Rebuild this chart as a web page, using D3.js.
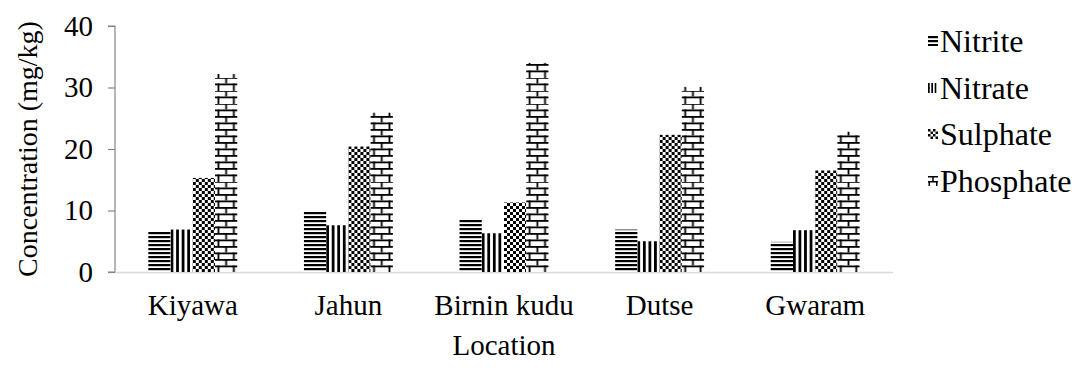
<!DOCTYPE html>
<html><head><meta charset="utf-8">
<script src="https://cdn.jsdelivr.net/npm/d3@7"></script>
<style>
html,body{margin:0;padding:0;background:#fff;}
svg text{font-family:"Liberation Serif","Tinos","Times New Roman","DejaVu Serif",serif !important;fill:#000;}
</style></head>
<body>
<svg id="chart" width="1080" height="383"></svg>
<script>
const categories = ["Kiyawa", "Jahun", "Birnin kudu", "Dutse", "Gwaram"];
const seriesNames = ["Nitrite", "Nitrate", "Sulphate", "Phosphate"];
const nitrite = [6.6, 9.8, 8.5, 6.9, 4.9];
const nitrate = [6.9, 7.6, 6.3, 5.0, 6.8];
const sulphate = [15.3, 20.4, 11.3, 22.3, 16.5];
const phosphate = [32.2, 25.9, 34.0, 30.1, 22.8];
const yTicks = [0, 10, 20, 30, 40];
const patternTypes = ["horiz", "vert", "checker", "brick"];

const seriesValues = [nitrite, nitrate, sulphate, phosphate];

const svg = d3.select("#chart");
const defs = svg.append("defs");
const mLeft = 115, mRight = 893, mTop = 26, mBottom = 272;

const x = d3.scaleBand().domain(categories).range([mLeft, mRight]).paddingInner(0).paddingOuter(0);
const bw = x.bandwidth() / 7;
const xs = d3.scaleBand().domain(seriesNames).range([0, bw * 4]);
const y = d3.scaleLinear().domain([0, 40]).range([mBottom, mTop]);

function makePattern(type, id, x0, y0, w) {
  const p = defs.append("pattern").attr("id", id).attr("patternUnits", "userSpaceOnUse")
    .attr("x", x0).attr("y", y0);
  if (type === "horiz") {
    p.attr("width", 10).attr("height", 4);
    p.append("rect").attr("width", 10).attr("height", 4).attr("fill", "#fff");
    p.append("rect").attr("width", 10).attr("height", 2.2).attr("fill", "#000");
  } else if (type === "vert") {
    const pw = w / (w < 14 ? 3 : 4);
    p.attr("width", pw).attr("height", 10);
    p.append("rect").attr("width", pw).attr("height", 10).attr("fill", "#fff");
    p.append("rect").attr("width", pw * 0.5).attr("height", 10).attr("fill", "#000");
  } else if (type === "checker") {
    const c = w < 14 ? 2.5 : 3;
    p.attr("width", c * 2).attr("height", c * 2);
    p.append("rect").attr("width", c * 2).attr("height", c * 2).attr("fill", "#fff");
    p.append("rect").attr("width", c).attr("height", c).attr("fill", "#000");
    p.append("rect").attr("x", c).attr("y", c).attr("width", c).attr("height", c).attr("fill", "#000");
  } else if (type === "brick") {
    const rh = w < 14 ? 5 : 6.5, t = w < 14 ? 1.5 : 1.8;
    p.attr("width", w).attr("height", rh * 2);
    p.append("rect").attr("width", w).attr("height", rh * 2).attr("fill", "#fff");
    p.append("rect").attr("width", w).attr("height", t).attr("fill", "#000");
    p.append("rect").attr("y", rh).attr("width", w).attr("height", t).attr("fill", "#000");
    p.append("rect").attr("x", w / 2 - t / 2).attr("y", 0).attr("width", t).attr("height", rh).attr("fill", "#000");
    const inset = w < 14 ? 0.5 : 2.5;
    p.append("rect").attr("x", inset).attr("y", rh).attr("width", t).attr("height", rh).attr("fill", "#000");
    p.append("rect").attr("x", w - inset - t).attr("y", rh).attr("width", t).attr("height", rh).attr("fill", "#000");
  }
  return "url(#" + id + ")";
}

// axes
const yAxis = d3.axisLeft(y).tickValues(yTicks).tickSize(7).tickPadding(15);
const gy = svg.append("g").attr("transform", `translate(${mLeft},0)`).call(yAxis);
gy.attr("font-family", null);
gy.select(".domain").attr("stroke", "#868686").attr("stroke-width", 1.2)
  .attr("d", `M-7,${mTop}H0V${mBottom}H-7`);
gy.selectAll(".tick line").attr("stroke", "#868686").attr("stroke-width", 1.2);
gy.selectAll(".tick text").attr("font-size", 29).attr("fill", "#000");

svg.append("line").attr("x1", mLeft).attr("x2", mRight).attr("y1", mBottom + 0.5).attr("y2", mBottom + 0.5)
  .attr("stroke", "#d9d9d9").attr("stroke-width", 1.5);

// bars
categories.forEach((c, ci) => {
  seriesNames.forEach((s, si) => {
    const v = seriesValues[si][ci];
    const bx = x(c) + bw * 1.5 + xs(s);
    const fill = makePattern(patternTypes[si], `p${si}_${ci}`, bx, mBottom, xs.bandwidth());
    svg.append("rect").attr("x", bx).attr("y", y(v)).attr("width", xs.bandwidth())
      .attr("height", y(0) - y(v)).attr("fill", fill);
  });
});

// x labels
const gx = svg.append("g").attr("transform", `translate(0,${mBottom})`)
  .call(d3.axisBottom(x).tickSize(0).tickPadding(22));
gx.attr("font-family", null);
gx.select(".domain").remove();
gx.selectAll(".tick text").attr("font-size", 29).attr("fill", "#000");

// axis titles
svg.append("text").attr("x", (mLeft + mRight) / 2).attr("y", 355).attr("text-anchor", "middle")
  .attr("font-size", 29).text("Location");
svg.append("text").attr("transform", `translate(37,${(mTop + mBottom) / 2}) rotate(-90)`)
  .attr("text-anchor", "middle").attr("font-size", 28).text("Concentration (mg/kg)");

// legend
const legY = [41, 88, 134, 181];
seriesNames.forEach((s, i) => {
  const ix = 928, iw = 10, ih = 10;
  const fill = makePattern(patternTypes[i], `leg${i}`, ix, legY[i] - 5, iw);
  svg.append("rect").attr("x", ix).attr("y", legY[i] - 5).attr("width", iw).attr("height", ih).attr("fill", fill);
  svg.append("text").attr("x", ix + iw + 2).attr("y", legY[i]).attr("dy", "0.35em")
    .attr("font-size", 32).text(s);
});
</script>
</body></html>
